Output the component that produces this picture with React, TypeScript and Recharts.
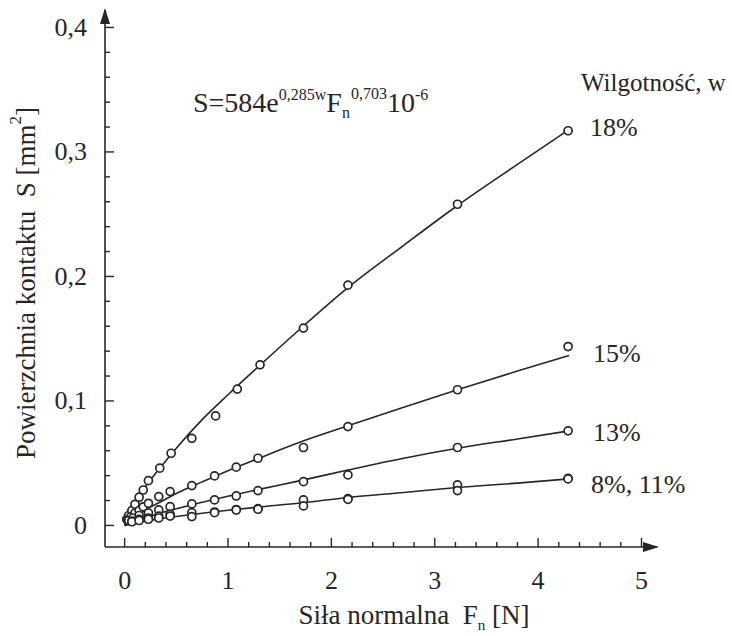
import {
  ComposedChart,
  Line,
  Scatter,
  XAxis,
  YAxis,
} from "recharts";

// measured contact area S [mm2] vs normal force Fn [N], by moisture content
const pts18 = [
  { f: 0.02, s: 0.005 }, { f: 0.04, s: 0.008 }, { f: 0.07, s: 0.012 },
  { f: 0.1, s: 0.017 }, { f: 0.14, s: 0.0227 }, { f: 0.18, s: 0.0285 },
  { f: 0.23, s: 0.036 }, { f: 0.34, s: 0.046 }, { f: 0.45, s: 0.058 },
  { f: 0.65, s: 0.07 }, { f: 0.88, s: 0.088 }, { f: 1.09, s: 0.1095 },
  { f: 1.31, s: 0.129 }, { f: 1.73, s: 0.1585 }, { f: 2.16, s: 0.193 },
  { f: 3.22, s: 0.258 }, { f: 4.29, s: 0.317 },
];
const pts15 = [
  { f: 0.03, s: 0.004 }, { f: 0.06, s: 0.007 }, { f: 0.1, s: 0.01 },
  { f: 0.14, s: 0.012 }, { f: 0.18, s: 0.015 }, { f: 0.23, s: 0.0178 },
  { f: 0.33, s: 0.0232 }, { f: 0.44, s: 0.0272 }, { f: 0.65, s: 0.032 },
  { f: 0.87, s: 0.0398 }, { f: 1.08, s: 0.0468 }, { f: 1.29, s: 0.054 },
  { f: 1.73, s: 0.0626 }, { f: 2.16, s: 0.0794 }, { f: 3.22, s: 0.109 },
  { f: 4.29, s: 0.1437 },
];
const pts13 = [
  { f: 0.04, s: 0.004 }, { f: 0.08, s: 0.006 }, { f: 0.14, s: 0.008 },
  { f: 0.23, s: 0.01 }, { f: 0.33, s: 0.0125 }, { f: 0.44, s: 0.0151 },
  { f: 0.65, s: 0.0173 }, { f: 0.87, s: 0.0205 }, { f: 1.08, s: 0.0237 },
  { f: 1.29, s: 0.028 }, { f: 1.73, s: 0.0352 }, { f: 2.16, s: 0.0406 },
  { f: 3.22, s: 0.0626 }, { f: 4.29, s: 0.076 },
];
const pts11 = [
  { f: 0.07, s: 0.0035 }, { f: 0.14, s: 0.005 }, { f: 0.23, s: 0.006 },
  { f: 0.33, s: 0.0075 }, { f: 0.44, s: 0.009 }, { f: 0.65, s: 0.0103 },
  { f: 0.87, s: 0.0108 }, { f: 1.08, s: 0.0128 }, { f: 1.29, s: 0.0135 },
  { f: 1.73, s: 0.0205 }, { f: 2.16, s: 0.0215 }, { f: 3.22, s: 0.0326 },
  { f: 4.29, s: 0.0378 },
];
const pts8 = [
  { f: 0.07, s: 0.003 }, { f: 0.14, s: 0.004 }, { f: 0.23, s: 0.005 },
  { f: 0.33, s: 0.006 }, { f: 0.44, s: 0.0075 }, { f: 0.65, s: 0.0071 },
  { f: 0.87, s: 0.0103 }, { f: 1.08, s: 0.0124 }, { f: 1.29, s: 0.013 },
  { f: 1.73, s: 0.0157 }, { f: 2.16, s: 0.021 }, { f: 3.22, s: 0.028 },
  { f: 4.29, s: 0.0374 },
];

// fitted curves S = f(Fn)
const fit18 = [
  { f: 0, s: 0 }, { f: 0.05, s: 0.011 }, { f: 0.1, s: 0.019 }, { f: 0.2, s: 0.031 },
  { f: 0.35, s: 0.047 }, { f: 0.5, s: 0.062 }, { f: 0.75, s: 0.085 }, { f: 1.0, s: 0.105 },
  { f: 1.3, s: 0.128 }, { f: 1.7, s: 0.158 }, { f: 2.16, s: 0.191 }, { f: 2.7, s: 0.225 },
  { f: 3.22, s: 0.257 }, { f: 3.8, s: 0.29 }, { f: 4.3, s: 0.318 },
];
const fit15 = [
  { f: 0, s: 0 }, { f: 0.05, s: 0.004 }, { f: 0.1, s: 0.0074 }, { f: 0.2, s: 0.0126 },
  { f: 0.35, s: 0.019 }, { f: 0.5, s: 0.0257 }, { f: 0.75, s: 0.035 }, { f: 1.0, s: 0.044 },
  { f: 1.3, s: 0.054 }, { f: 1.7, s: 0.067 }, { f: 2.16, s: 0.08 }, { f: 2.7, s: 0.095 },
  { f: 3.22, s: 0.109 }, { f: 3.8, s: 0.124 }, { f: 4.3, s: 0.1365 },
];
const fit13 = [
  { f: 0, s: 0 }, { f: 0.1, s: 0.0037 }, { f: 0.2, s: 0.0065 }, { f: 0.35, s: 0.01 },
  { f: 0.5, s: 0.0135 }, { f: 0.75, s: 0.0187 }, { f: 1.0, s: 0.0235 }, { f: 1.3, s: 0.029 },
  { f: 1.7, s: 0.036 }, { f: 2.16, s: 0.0445 }, { f: 2.7, s: 0.054 }, { f: 3.22, s: 0.062 },
  { f: 3.8, s: 0.0695 }, { f: 4.3, s: 0.076 },
];
const fit8 = [
  { f: 0, s: 0 }, { f: 0.1, s: 0.002 }, { f: 0.2, s: 0.0035 }, { f: 0.35, s: 0.0055 },
  { f: 0.5, s: 0.0072 }, { f: 0.75, s: 0.0098 }, { f: 1.0, s: 0.0122 }, { f: 1.3, s: 0.0148 },
  { f: 1.7, s: 0.018 }, { f: 2.16, s: 0.0225 }, { f: 2.7, s: 0.0265 }, { f: 3.22, s: 0.0305 },
  { f: 3.8, s: 0.034 }, { f: 4.3, s: 0.0374 },
];

const xTicks = [
  0, 0.2, 0.4, 0.6, 0.8, 1, 1.2, 1.4, 1.6, 1.8, 2, 2.2, 2.4, 2.6, 2.8,
  3, 3.2, 3.4, 3.6, 3.8, 4, 4.2, 4.4, 4.6, 4.8, 5,
];
const yTicks = [
  0, 0.02, 0.04, 0.06, 0.08, 0.1, 0.12, 0.14, 0.16, 0.18, 0.2,
  0.22, 0.24, 0.26, 0.28, 0.3, 0.32, 0.34, 0.36, 0.38, 0.4,
];

const INK = "#262626";
const FONT = "'Liberation Serif', 'Times New Roman', serif";

const isWhole = (v: number, step: number) =>
  Math.abs(v / step - Math.round(v / step)) < 1e-6;

const XTick = (props: any) => {
  const { x, y, payload } = props;
  const v = payload.value;
  const major = isWhole(v, 1);
  return (
    <g>
      <line x1={x} y1={y} x2={x} y2={y - (major ? 9 : 5)} stroke={INK} strokeWidth={1.4} />
      {major && (
        <text x={x} y={y + 33} textAnchor="middle" dominantBaseline="central"
          fontSize={26} style={{ fontFamily: FONT }} fill={INK}>
          {String(v)}
        </text>
      )}
    </g>
  );
};

const YTick = (props: any) => {
  const { x, y, payload } = props;
  const v = payload.value;
  const major = isWhole(v, 0.1);
  return (
    <g>
      <line x1={x} y1={y} x2={x + (major ? 9 : 5)} y2={y} stroke={INK} strokeWidth={1.4} />
      {major && (
        <text x={x - 18} y={y} textAnchor="end" dominantBaseline="central"
          fontSize={26} style={{ fontFamily: FONT }} fill={INK}>
          {v === 0 ? "0" : v.toFixed(1).replace(".", ",")}
        </text>
      )}
    </g>
  );
};

const Ring = (props: any) => (
  <circle cx={props.cx} cy={props.cy} r={4} fill="#fff" stroke={INK} strokeWidth={1.7} />
);

const lineProps = {
  type: "monotone" as const,
  dataKey: "s",
  stroke: INK,
  strokeWidth: 1.6,
  dot: false,
  activeDot: false,
  isAnimationActive: false,
};

const txt = { style: { fontFamily: FONT }, fill: INK, fontSize: 26 };

export default function App() {
  return (
    <div style={{ position: "absolute", left: 0, top: 0, background: "#fff" }}>
      <ComposedChart
        width={732}
        height={636}
        margin={{ top: 10, right: 75, bottom: 0, left: 0 }}
      >
        <XAxis
          type="number"
          dataKey="f"
          domain={[-0.19, 5.15]}
          allowDataOverflow
          ticks={xTicks}
          interval={0}
          height={89}
          tickSize={0}
          tickMargin={0}
          tickLine={false}
          axisLine={{ stroke: INK, strokeWidth: 1.6 }}
          tick={<XTick />}
        />
        <YAxis
          type="number"
          dataKey="s"
          domain={[-0.0173, 0.414]}
          allowDataOverflow
          ticks={yTicks}
          interval={0}
          width={105}
          tickSize={0}
          tickMargin={0}
          tickLine={false}
          axisLine={{ stroke: INK, strokeWidth: 1.6 }}
          tick={<YTick />}
        />
        <Line {...lineProps} data={fit18} />
        <Line {...lineProps} data={fit15} />
        <Line {...lineProps} data={fit13} />
        <Line {...lineProps} data={fit8} />
        <Scatter data={pts18} dataKey="s" shape={<Ring />} isAnimationActive={false} />
        <Scatter data={pts15} dataKey="s" shape={<Ring />} isAnimationActive={false} />
        <Scatter data={pts13} dataKey="s" shape={<Ring />} isAnimationActive={false} />
        <Scatter data={pts11} dataKey="s" shape={<Ring />} isAnimationActive={false} />
        <Scatter data={pts8} dataKey="s" shape={<Ring />} isAnimationActive={false} />

        {/* axis arrowheads */}
        <path d="M105,8 L100,24 L110,24 Z" fill={INK} />
        <path d="M659,547 L643,542 L643,552 Z" fill={INK} />

        {/* axis titles */}
        <text {...txt} fontSize={27} x={0} y={0} textAnchor="middle" dominantBaseline="central"
          transform="translate(26,283) rotate(-90)">
          Powierzchnia kontaktu{"\u00a0\u00a0"}S [mm
          <tspan fontSize={17} dy={-11}>2</tspan>
          <tspan dy={11}>]</tspan>
        </text>
        <text {...txt} fontSize={27} x={414} y={624} textAnchor="middle">
          Siła normalna{"\u00a0\u00a0"}F
          <tspan fontSize={15} dy={6}>n</tspan>
          <tspan dy={-6}>{"\u00a0"}[N]</tspan>
        </text>

        {/* fitted model */}
        <text {...txt} x={193} y={112} fontSize={28}>
          S=584e
          <tspan fontSize={16} dy={-12}>0,285w</tspan>
          <tspan dy={12}>F</tspan>
          <tspan fontSize={16} dy={6}>n</tspan>
          <tspan fontSize={16} dy={-19} dx={1}>0,703</tspan>
          <tspan dy={13}>10</tspan>
          <tspan fontSize={16} dy={-12}>-6</tspan>
        </text>

        {/* moisture labels */}
        <text {...txt} fontSize={25} x={581} y={82} dominantBaseline="central">Wilgotność, w</text>
        <text {...txt} x={590} y={127} dominantBaseline="central">18%</text>
        <text {...txt} x={593} y={353} dominantBaseline="central">15%</text>
        <text {...txt} x={593} y={432} dominantBaseline="central">13%</text>
        <text {...txt} x={591} y={484} dominantBaseline="central">8%, 11%</text>
      </ComposedChart>
    </div>
  );
}
